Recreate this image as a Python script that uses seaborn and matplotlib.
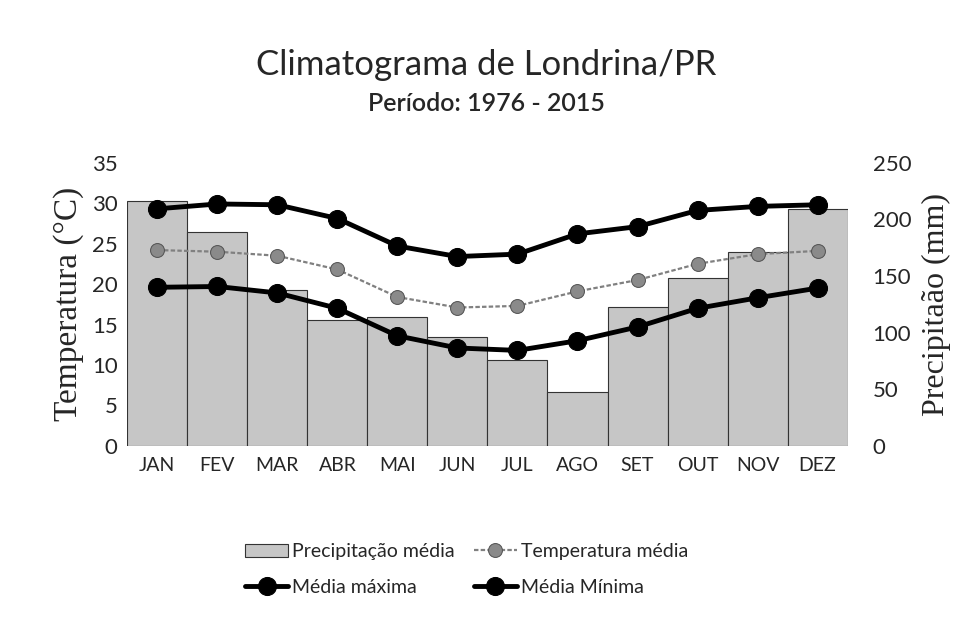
import pandas as pd
import matplotlib
matplotlib.use("Agg")
import matplotlib.pyplot as plt
import seaborn as sns

# Data
meses = ['JAN', 'FEV', 'MAR', 'ABR', 'MAI', 'JUN',
         'JUL', 'AGO', 'SET', 'OUT', 'NOV', 'DEZ']
precipitacao = [216, 189, 138, 111, 114, 96, 76, 48, 123, 148, 171, 209]
temp_media = [24.2, 24.0, 23.5, 21.8, 18.4, 17.1, 17.3, 19.1, 20.5, 22.5, 23.7, 24.1]
temp_max = [29.3, 29.9, 29.8, 28.1, 24.7, 23.4, 23.7, 26.2, 27.1, 29.1, 29.6, 29.8]
temp_min = [19.6, 19.7, 18.9, 17.0, 13.6, 12.1, 11.8, 13.0, 14.7, 17.0, 18.3, 19.5]

df = pd.DataFrame({'mes': meses, 'prec': precipitacao, 'tmed': temp_media,
                   'tmax': temp_max, 'tmin': temp_min})

sns.set_style("white")
plt.rcParams['font.family'] = ['Lato', 'DejaVu Sans']

fig = plt.figure(figsize=(9.72, 6.21), dpi=100)
ax_p = fig.add_axes([0.131, 0.282, 0.741, 0.456])

# precipitation bars (right axis)
sns.barplot(data=df, x='mes', y='prec', ax=ax_p, width=1.0, color='#c6c6c6',
            edgecolor='#333333', linewidth=0.8, saturation=1,
            label='Precipitação média')
ax_p.set_ylim(0, 250)
ax_p.set_yticks(range(0, 251, 50))
ax_p.set_xlabel('')
ax_p.set_xlim(-0.5, 11.5)

# temperature lines (left axis)
ax_t = ax_p.twinx()
sns.lineplot(data=df, x='mes', y='tmed', ax=ax_t, sort=False, color='#808080',
             linewidth=1.6, linestyle=(0, (2, 1)), marker='o', markersize=10,
             markerfacecolor='#8a8a8a', markeredgecolor='#555555',
             label='Temperatura média')
sns.lineplot(data=df, x='mes', y='tmax', ax=ax_t, sort=False, color='black',
             linewidth=3.5, marker='o', markersize=13, markeredgecolor='black',
             label='Média máxima')
sns.lineplot(data=df, x='mes', y='tmin', ax=ax_t, sort=False, color='black',
             linewidth=3.5, marker='o', markersize=13, markeredgecolor='black',
             label='Média Mínima')
ax_t.set_ylim(0, 35)
ax_t.set_yticks(range(0, 36, 5))
ax_t.yaxis.tick_left()
ax_t.yaxis.set_label_position('left')
ax_t.set_ylabel('Temperatura (°C)', family='Liberation Serif', fontsize=24, labelpad=6)
ax_t.set_xlim(-0.5, 11.5)
ax_t.get_legend().remove()

# twinx moved the bar axis ticks to the left, put them back on the right
ax_p.yaxis.tick_right()
ax_p.yaxis.set_label_position('right')
ax_p.set_ylabel('Precipitaão (mm)', family='Liberation Serif', fontsize=23, labelpad=8)

for a in (ax_p, ax_t):
    for s in a.spines.values():
        s.set_visible(False)
    a.tick_params(length=0, labelsize=16, pad=7)
ax_p.tick_params(axis='y', pad=18)
ax_p.tick_params(axis='x', labelsize=14, pad=8)

fig.text(0.5, 0.895, 'Climatograma de Londrina/PR', ha='center', va='center', fontsize=25)
fig.text(0.5, 0.833, 'Período: 1976 - 2015', ha='center', va='center', fontsize=18,
         fontweight='semibold')

h1, l1 = ax_p.get_legend_handles_labels()
h2, l2 = ax_t.get_legend_handles_labels()
if ax_p.get_legend() is not None:
    ax_p.get_legend().remove()
handles = [h1[0], h2[1], h2[0], h2[2]]
labels = [l1[0], l2[1], l2[0], l2[2]]
fig.legend(handles, labels, ncol=2, loc='center', bbox_to_anchor=(0.48, 0.083),
           frameon=False, fontsize=14, handlelength=2.2, handletextpad=0.2,
           columnspacing=1.0, labelspacing=0.95)

fig.savefig('out.png', dpi=100)
